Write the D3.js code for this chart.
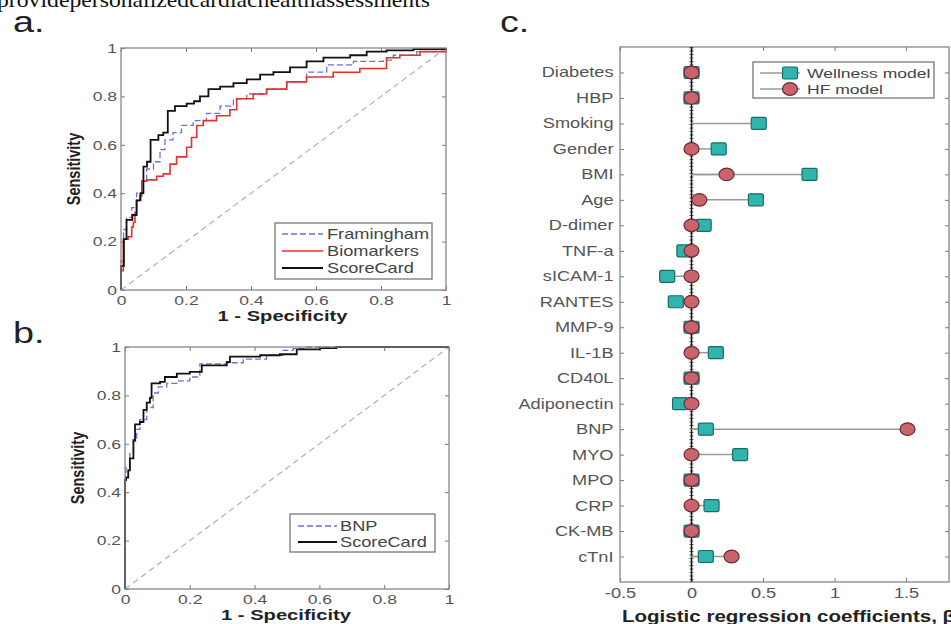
<!DOCTYPE html>
<meta charset="utf-8">
<style>
    body { margin: 0; background: #fff; }
    svg { display: block; font-family: "Liberation Sans", Arial, sans-serif; }
</style>
<body>
<script src="https://cdn.jsdelivr.net/npm/d3@7"></script>
<script>
    // ROC points: fpr = 1 - specificity, tpr = sensitivity
    const rocTicks = [0, 0.2, 0.4, 0.6, 0.8, 1];

    const aScoreFpr = [0, 0, 0.009, 0.017, 0.035, 0.048, 0.06, 0.069, 0.08, 0.091, 0.115, 0.13, 0.144, 0.166, 0.202, 0.225, 0.243, 0.269, 0.305, 0.346, 0.387, 0.428, 0.469, 0.52, 0.571, 0.623, 0.705, 0.756, 0.817, 0.9, 1];
    const aScoreTpr = [0, 0.10, 0.21, 0.29, 0.31, 0.37, 0.40, 0.51, 0.53, 0.62, 0.64, 0.65, 0.74, 0.76, 0.77, 0.78, 0.80, 0.83, 0.84, 0.855, 0.87, 0.89, 0.90, 0.92, 0.945, 0.96, 0.97, 0.985, 0.99, 0.995, 1];

    const aBioFpr = [0, 0, 0.007, 0.022, 0.033, 0.038, 0.043, 0.048, 0.058, 0.064, 0.079, 0.11, 0.13, 0.151, 0.171, 0.202, 0.217, 0.233, 0.253, 0.294, 0.335, 0.356, 0.407, 0.448, 0.51, 0.571, 0.653, 0.735, 0.817, 0.858, 0.92, 1];
    const aBioTpr = [0, 0.08, 0.21, 0.22, 0.26, 0.28, 0.32, 0.37, 0.39, 0.45, 0.455, 0.47, 0.48, 0.52, 0.55, 0.59, 0.63, 0.68, 0.70, 0.72, 0.745, 0.79, 0.81, 0.83, 0.86, 0.88, 0.90, 0.915, 0.96, 0.97, 0.985, 1];

    const aFramFpr = [0, 0, 0.008, 0.017, 0.033, 0.048, 0.064, 0.079, 0.1, 0.12, 0.135, 0.16, 0.186, 0.222, 0.263, 0.305, 0.346, 0.387, 0.448, 0.51, 0.571, 0.633, 0.715, 0.807, 0.838, 0.91, 1];
    const aFramTpr = [0, 0.12, 0.25, 0.30, 0.34, 0.40, 0.45, 0.50, 0.53, 0.58, 0.62, 0.65, 0.68, 0.70, 0.73, 0.76, 0.79, 0.81, 0.83, 0.86, 0.90, 0.93, 0.945, 0.95, 0.97, 0.985, 1];

    const bScoreFpr = [0, 0, 0.003, 0.01, 0.015, 0.026, 0.031, 0.046, 0.057, 0.067, 0.077, 0.082, 0.108, 0.123, 0.16, 0.2, 0.237, 0.314, 0.324, 0.417, 0.478, 0.53, 0.602, 0.653, 1];
    const bScoreTpr = [0, 0.45, 0.46, 0.49, 0.54, 0.615, 0.68, 0.69, 0.74, 0.77, 0.79, 0.85, 0.856, 0.876, 0.89, 0.897, 0.924, 0.938, 0.96, 0.966, 0.97, 0.99, 0.995, 1, 1];

    const bBnpFpr = [0, 0, 0.003, 0.015, 0.026, 0.036, 0.046, 0.067, 0.087, 0.103, 0.129, 0.16, 0.2, 0.231, 0.314, 0.365, 0.437, 0.488, 0.519, 0.56, 1];
    const bBnpTpr = [0, 0.45, 0.50, 0.56, 0.61, 0.66, 0.70, 0.75, 0.81, 0.835, 0.85, 0.86, 0.876, 0.93, 0.935, 0.95, 0.966, 0.986, 0.993, 1, 1];

    // panel c
    const predictors = ["Diabetes", "HBP", "Smoking", "Gender", "BMI", "Age", "D-dimer", "TNF-a", "sICAM-1", "RANTES",
        "MMP-9", "IL-1B", "CD40L", "Adiponectin", "BNP", "MYO", "MPO", "CRP", "CK-MB", "cTnI"];
    const wellnessCoef = [0, 0, 0.47, 0.19, 0.825, 0.45, 0.085, -0.05, -0.17, -0.11, 0, 0.17, 0, -0.08, 0.10, 0.34, 0, 0.14, 0, 0.10];
    const hfCoef = [0, 0, null, 0, 0.245, 0.055, 0, 0, 0, 0, 0, 0, 0, 0, 1.51, 0, 0, 0, 0, 0.28];
    const coefTicks = [-0.5, 0, 0.5, 1, 1.5];

    const SX = 1.3; // the figure is stretched horizontally
    const width = 951, height = 624;

    const svg = d3.select("body").append("svg")
        .attr("width", width)
        .attr("height", height);

    function label(g, x, y, txt, size, anchor, weight, rot) {
        return g.append("text")
            .attr("transform", "translate(" + x + "," + y + ") scale(" + SX + ",1)" + (rot ? " rotate(" + rot + ")" : ""))
            .attr("text-anchor", anchor || "start")
            .style("font-size", size + "px")
            .style("font-weight", weight || "normal")
            .style("fill", "#333")
            .text(txt);
    }

    function styleTicks(g) {
        g.select(".domain").remove();
        g.selectAll(".tick line").attr("stroke", "#777");
        g.selectAll(".tick text")
            .attr("transform", "scale(" + SX + ",1)")
            .style("font-size", "13.5px")
            .style("font-family", "'Liberation Sans', Arial, sans-serif")
            .style("fill", "#555");
    }

    // top caption, cut by the page edge
    svg.append("text")
        .attr("x", -3).attr("y", 7)
        .attr("textLength", 433).attr("lengthAdjust", "spacingAndGlyphs")
        .style("font-family", "'Liberation Serif', 'Times New Roman', serif")
        .style("font-size", "22px")
        .style("fill", "#111")
        .text("providepersonalizedcardiachealthassessments");

    label(svg, 13, 32, "a.", 29).style("fill", "#222");
    label(svg, 13, 343, "b.", 29).style("fill", "#222");
    label(svg, 500, 32, "c.", 29).style("fill", "#222");

    function rocPanel(box, curves, legend) {
        const x = d3.scaleLinear().domain([0, 1]).range([box.x0, box.x1]);
        const y = d3.scaleLinear().domain([0, 1]).range([box.y1, box.y0]);
        const g = svg.append("g");

        // inward ticks on all four sides
        g.append("g").attr("transform", "translate(0," + box.y1 + ")")
            .call(d3.axisBottom(x).tickValues(rocTicks).tickFormat(d => String(d)).tickSizeInner(-4).tickSizeOuter(0).tickPadding(5))
            .call(styleTicks);
        g.append("g").attr("transform", "translate(" + box.x0 + ",0)")
            .call(d3.axisLeft(y).tickValues(rocTicks).tickFormat(d => String(d)).tickSizeInner(-4).tickSizeOuter(0).tickPadding(3))
            .call(styleTicks);
        g.append("g").attr("transform", "translate(0," + box.y0 + ")")
            .call(d3.axisTop(x).tickValues(rocTicks).tickFormat("").tickSizeInner(-4).tickSizeOuter(0))
            .call(styleTicks);
        g.append("g").attr("transform", "translate(" + box.x1 + ",0)")
            .call(d3.axisRight(y).tickValues(rocTicks).tickFormat("").tickSizeInner(-4).tickSizeOuter(0))
            .call(styleTicks);

        // chance line
        g.append("line")
            .attr("x1", x(0)).attr("y1", y(0)).attr("x2", x(1)).attr("y2", y(1))
            .attr("stroke", "#b0b0b0").attr("stroke-width", 1.2).attr("stroke-dasharray", "6,4");

        const line = d3.line().curve(d3.curveStepAfter);
        curves.forEach(c => {
            const pts = c.fpr.map((f, i) => [x(f), y(c.tpr[i])]);
            g.append("path")
                .attr("d", line(pts))
                .attr("fill", "none")
                .attr("stroke", c.color)
                .attr("stroke-width", c.w)
                .attr("stroke-dasharray", c.dash || null);
        });

        g.append("rect")
            .attr("x", box.x0).attr("y", box.y0)
            .attr("width", box.x1 - box.x0).attr("height", box.y1 - box.y0)
            .attr("fill", "none").attr("stroke", "#888").attr("stroke-width", 1.3);

        label(g, (box.x0 + box.x1) / 2 - 1, box.y1 + 31, "1 - Specificity", 15.5, "middle", "bold").style("fill", "#222");
        label(g, box.x0 - 41, (box.y0 + box.y1) / 2, "Sensitivity", 14.5, "middle", "bold", -90).style("fill", "#222");

        // legend
        const lg = g.append("g");
        lg.append("rect")
            .attr("x", legend.x0).attr("y", legend.y0)
            .attr("width", legend.x1 - legend.x0).attr("height", legend.y1 - legend.y0)
            .attr("fill", "#fff").attr("stroke", "#777").attr("stroke-width", 1.3);
        curves.forEach((c, i) => {
            const ly = legend.rows[i];
            lg.append("line")
                .attr("x1", legend.lx0).attr("x2", legend.lx1).attr("y1", ly).attr("y2", ly)
                .attr("stroke", c.color).attr("stroke-width", c.w)
                .attr("stroke-dasharray", c.dash || null);
            label(lg, legend.tx, ly + 5, c.name, 14).style("fill", "#444");
        });
    }

    rocPanel({x0: 121, x1: 446, y0: 48, y1: 290}, [
        {name: "Framingham", fpr: aFramFpr, tpr: aFramTpr, color: "#7070d0", w: 1.3, dash: "6,3"},
        {name: "Biomarkers", fpr: aBioFpr, tpr: aBioTpr, color: "#e83030", w: 1.6},
        {name: "ScoreCard", fpr: aScoreFpr, tpr: aScoreTpr, color: "#111", w: 1.8}
    ], {x0: 275, x1: 432, y0: 223, y1: 279, rows: [234, 251, 268], lx0: 282, lx1: 323, tx: 327});

    rocPanel({x0: 125, x1: 449, y0: 347, y1: 589}, [
        {name: "BNP", fpr: bBnpFpr, tpr: bBnpTpr, color: "#7070d0", w: 1.3, dash: "6,3"},
        {name: "ScoreCard", fpr: bScoreFpr, tpr: bScoreTpr, color: "#111", w: 1.8}
    ], {x0: 290, x1: 435, y0: 514, y1: 552, rows: [526, 542], lx0: 298, lx1: 337, tx: 340});

    // ---- panel c: stem plot of coefficients
    const cBox = {x0: 620, x1: 949, y0: 47, y1: 582};
    const cx = d3.scaleLinear().domain([-0.5, 1.8]).range([cBox.x0, cBox.x1]);
    const cy = d3.scalePoint().domain(predictors).range([cBox.y0, cBox.y1]).padding(1);
    const gc = svg.append("g");

    gc.append("g").attr("transform", "translate(0," + cBox.y1 + ")")
        .call(d3.axisBottom(cx).tickValues(coefTicks).tickFormat(d => String(d)).tickSizeInner(-4).tickSizeOuter(0).tickPadding(6))
        .call(styleTicks);
    gc.append("g").attr("transform", "translate(0," + cBox.y0 + ")")
        .call(d3.axisTop(cx).tickValues(coefTicks).tickFormat("").tickSizeInner(-4).tickSizeOuter(0))
        .call(styleTicks);
    gc.append("g").attr("transform", "translate(" + cBox.x0 + ",0)")
        .call(d3.axisLeft(cy).tickSizeInner(-4).tickSizeOuter(0).tickPadding(5))
        .call(styleTicks);
    gc.append("g").attr("transform", "translate(" + cBox.x1 + ",0)")
        .call(d3.axisRight(cy).tickFormat("").tickSizeInner(-4).tickSizeOuter(0))
        .call(styleTicks);
    gc.selectAll(".tick text").style("font-size", "14px");

    gc.append("rect")
        .attr("x", cBox.x0).attr("y", cBox.y0)
        .attr("width", cBox.x1 - cBox.x0).attr("height", cBox.y1 - cBox.y0)
        .attr("fill", "none").attr("stroke", "#888").attr("stroke-width", 1.3);

    // zero baseline
    gc.append("line")
        .attr("x1", cx(0)).attr("x2", cx(0)).attr("y1", cBox.y0).attr("y2", cBox.y1)
        .attr("stroke", "#666").attr("stroke-width", 4).attr("stroke-dasharray", "1,2.5");
    gc.append("line")
        .attr("x1", cx(0)).attr("x2", cx(0)).attr("y1", cBox.y0).attr("y2", cBox.y1)
        .attr("stroke", "#111").attr("stroke-width", 1.5);

    const stems = [];
    predictors.forEach((p, i) => {
        if (wellnessCoef[i] !== null) stems.push({p: p, v: wellnessCoef[i]});
        if (hfCoef[i] !== null) stems.push({p: p, v: hfCoef[i]});
    });
    gc.selectAll(".stem").data(stems).enter().append("line")
        .attr("class", "stem")
        .attr("x1", cx(0)).attr("x2", d => cx(d.v))
        .attr("y1", d => cy(d.p)).attr("y2", d => cy(d.p))
        .attr("stroke", "#9a9a9a").attr("stroke-width", 1.5);

    const sqW = 15, sqH = 12;
    gc.selectAll(".well").data(predictors.map((p, i) => ({p: p, v: wellnessCoef[i]})).filter(d => d.v !== null))
        .enter().append("rect")
        .attr("class", "well")
        .attr("x", d => cx(d.v) - sqW / 2).attr("y", d => cy(d.p) - sqH / 2)
        .attr("width", sqW).attr("height", sqH).attr("rx", 1.5)
        .attr("fill", "#2fb5ad").attr("stroke", "#1b6b66").attr("stroke-width", 1.2);

    gc.selectAll(".hf").data(predictors.map((p, i) => ({p: p, v: hfCoef[i]})).filter(d => d.v !== null))
        .enter().append("ellipse")
        .attr("class", "hf")
        .attr("cx", d => cx(d.v)).attr("cy", d => cy(d.p))
        .attr("rx", 7.5).attr("ry", 6.3)
        .attr("fill", "#c9646c").attr("stroke", "#6b2c32").attr("stroke-width", 1.2);

    label(gc, 622, 622, "Logistic regression coefficients, \u03b2", 15.8, "start", "bold").style("fill", "#222");

    // legend c
    const lc = gc.append("g");
    lc.append("rect")
        .attr("x", 753).attr("y", 62).attr("width", 181).attr("height", 36)
        .attr("fill", "#fff").attr("stroke", "#777").attr("stroke-width", 1.3);
    [{name: "Wellness model", y: 73}, {name: "HF model", y: 89}].forEach((e, i) => {
        lc.append("line").attr("x1", 760).attr("x2", 800).attr("y1", e.y).attr("y2", e.y)
            .attr("stroke", "#9a9a9a").attr("stroke-width", 1.5);
        if (i === 0) {
            lc.append("rect").attr("x", 790 - sqW / 2).attr("y", e.y - sqH / 2).attr("width", sqW).attr("height", sqH).attr("rx", 1.5)
                .attr("fill", "#2fb5ad").attr("stroke", "#1b6b66").attr("stroke-width", 1.2);
        } else {
            lc.append("ellipse").attr("cx", 790).attr("cy", e.y).attr("rx", 7.5).attr("ry", 6.3)
                .attr("fill", "#c9646c").attr("stroke", "#6b2c32").attr("stroke-width", 1.2);
        }
        label(lc, 807, e.y + 5, e.name, 13.5).style("fill", "#444");
    });
</script>
</body>
</html>
